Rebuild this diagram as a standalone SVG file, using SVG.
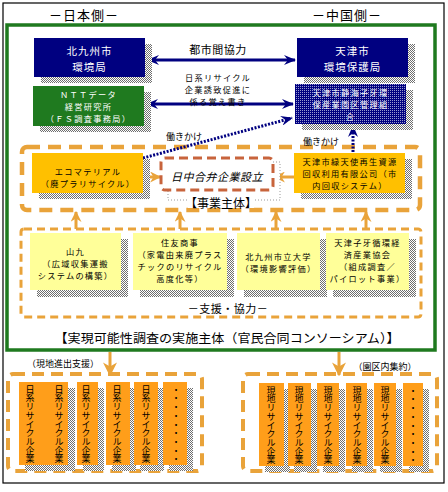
<svg xmlns="http://www.w3.org/2000/svg" width="448" height="492" viewBox="0 0 448 492">
<defs>
<pattern id="hatch" width="2" height="2" patternUnits="userSpaceOnUse"><rect width="2" height="2" fill="#fff"/><rect width="1" height="1" fill="#6e6e6e"/><rect x="1" y="1" width="1" height="1" fill="#6e6e6e"/></pattern>
<pattern id="navydots" width="2" height="2" patternUnits="userSpaceOnUse"><rect width="2" height="2" fill="#000080"/><rect width="1" height="1" fill="#9a9ad0"/></pattern>
<marker id="navyHead" viewBox="0 0 12 10" refX="11" refY="5" markerWidth="12" markerHeight="10" markerUnits="userSpaceOnUse" orient="auto-start-reverse"><path d="M0,0 L12,5 L0,10 L4,5 z" fill="#000080"/></marker>
<marker id="orHead" viewBox="0 0 10 10" refX="9" refY="5" markerWidth="11" markerHeight="11" markerUnits="userSpaceOnUse" orient="auto"><path d="M0,0 L10,5 L0,10 L3,5 z" fill="#E9A33A"/></marker>
<marker id="orHeadBig" viewBox="0 0 10 10" refX="9" refY="5" markerWidth="14" markerHeight="16" markerUnits="userSpaceOnUse" orient="auto"><path d="M0,0 L10,5 L0,10 L3,5 z" fill="#E9A33A"/></marker>
</defs>
<style>
text{font-family:"Noto Sans CJK JP","Noto Sans",sans-serif;dominant-baseline:central;text-anchor:middle;fill:#000}
.w{fill:#fff}
.hd{font-size:13px;letter-spacing:1px}
.t11{font-size:11px;letter-spacing:0.5px}
.tb{font-size:10.5px;letter-spacing:1px}
.t10{font-size:8.2px;letter-spacing:1.3px}
.t9{font-size:9px}
.sh{fill:url(#hatch)}
.navy{fill:#000080}
.green{fill:#1f7a1f}
.gold{fill:#FFC000}
.pale{fill:#FFFF99}
.org{fill:#FF9E1A}
.dash1{fill:none;stroke:#E9A33A;stroke-width:4.5;stroke-dasharray:13 8}
.dash2{fill:none;stroke:#E9A33A;stroke-width:3;stroke-dasharray:8 5}
.dash3{fill:none;stroke:#E9A33A;stroke-width:4;stroke-dasharray:12 7}
.vt{font-size:9px;writing-mode:vertical-rl;text-orientation:upright;letter-spacing:-0.3px}
.nl{stroke:#000080;stroke-width:3;fill:none}
.dl{stroke:#000080;stroke-width:3;fill:none;stroke-dasharray:2 1.5}
.ol{stroke:#E9A33A;stroke-width:3;fill:none}
</style>
<rect x="3" y="3" width="441" height="480" fill="#fff" stroke="#000" stroke-width="1.2"/>
<text class="hd" x="84" y="14">－日本側－</text>
<text class="hd" x="347" y="14">－中国側－</text>
<rect x="7" y="25" width="428" height="325" fill="#fff" stroke="#1f7a1f" stroke-width="3.5"/>

<g id="frame-jigyou">
<rect class="dash1" x="22" y="147" width="398" height="63" rx="5"/>
</g>
<g id="frame-shien">
<rect class="dash2" x="21" y="229" width="400" height="88" rx="3"/>
<text class="t11" x="228" y="308">－支援・協力－</text>
</g>

<g id="connectors">
<line class="nl" x1="148" y1="60" x2="295" y2="60" marker-start="url(#navyHead)" marker-end="url(#navyHead)"/>
<line class="nl" x1="147" y1="104" x2="293" y2="104" marker-start="url(#navyHead)" marker-end="url(#navyHead)"/>
<line class="dl" x1="143" y1="158" x2="292" y2="118" marker-end="url(#navyHead)"/>
<line class="dl" x1="353" y1="152" x2="353" y2="126" marker-end="url(#navyHead)"/>
<line class="ol" x1="143" y1="177" x2="160" y2="177" marker-end="url(#orHead)"/>
<line class="ol" x1="294" y1="177" x2="275" y2="177" marker-end="url(#orHead)"/>
<line class="ol" x1="76" y1="229" x2="76" y2="212" marker-end="url(#orHead)"/>
<line class="ol" x1="180" y1="229" x2="180" y2="212" marker-end="url(#orHead)"/>
<line class="ol" x1="276" y1="229" x2="276" y2="212" marker-end="url(#orHead)"/>
<line class="ol" x1="366" y1="229" x2="366" y2="212" marker-end="url(#orHead)"/>
<line class="ol" x1="110" y1="352" x2="110" y2="375" marker-end="url(#orHeadBig)"/>
<line class="ol" x1="339" y1="352" x2="339" y2="375" marker-end="url(#orHeadBig)"/>
<text class="t11" x="218" y="49">都市間協力</text>
<text class="t10" x="218" y="76.5"><tspan x="218" y="76.5">日系リサイクル</tspan><tspan x="218" y="88.5">企業誘致促進に</tspan><tspan x="218" y="100.5">係る覚え書き</tspan></text>
<text class="t9" x="184" y="136">働きかけ</text>
<text class="t9" x="321" y="141">働きかけ</text>
</g>

<g id="kitakyushu">
<rect class="sh" x="41" y="44" width="111" height="39"/>
<rect class="navy" x="34" y="38" width="111" height="39"/>
<text class="tb w" x="89.5" y="49.5"><tspan x="89.5" y="49.5">北九州市</tspan><tspan x="89.5" y="65.5">環境局</tspan></text>
</g>
<g id="tianjin-env">
<rect class="sh" x="304" y="44" width="111" height="39"/>
<rect class="navy" x="297" y="38" width="111" height="39"/>
<text class="tb w" x="352.5" y="49.5"><tspan x="352.5" y="49.5">天津市</tspan><tspan x="352.5" y="65.5">環境保護局</tspan></text>
</g>
<g id="ntt">
<rect class="sh" x="40" y="92" width="111" height="40"/>
<rect class="green" x="33" y="86" width="111" height="40"/>
<text class="t10 w" x="88.5" y="94"><tspan x="88.5" y="94">ＮＴＴデータ</tspan><tspan x="88.5" y="106">経営研究所</tspan><tspan x="88.5" y="118">（ＦＳ調査事務局）</tspan></text>
</g>
<g id="ziya-admin">
<rect class="sh" x="302" y="90" width="111" height="40"/>
<rect fill="url(#navydots)" x="295" y="84" width="111" height="40"/>
<text class="t10 w" x="350.5" y="92"><tspan x="350.5" y="92">天津市静海子牙環</tspan><tspan x="350.5" y="104">保産業園区管理組</tspan><tspan x="350.5" y="116">合</tspan></text>
</g>
<g id="ecomaterial">
<rect class="sh" x="39" y="159" width="111" height="40"/>
<rect class="gold" x="32" y="153" width="111" height="40"/>
<text class="t10" x="88" y="171"><tspan x="88" y="171">エコマテリアル</tspan><tspan x="88" y="183">（廃プラリサイクル）</tspan></text>
</g>
<g id="joint-venture">
<rect x="168" y="162" width="112" height="38" fill="#fff" stroke="#999" stroke-width="1" stroke-dasharray="1 2"/>
<rect x="161" y="158" width="112" height="32" rx="4" fill="#fff" stroke="#C8643C" stroke-width="3" stroke-dasharray="9 5"/>
<text class="t11" x="217" y="175.5" font-style="italic">日中合弁企業設立</text>
<rect x="188" y="194" width="66" height="14" fill="#fff"/>
<text x="221" y="202" font-size="12px">【事業主体】</text>
</g>
<g id="ryokutenshi">
<rect class="sh" x="301" y="159" width="111" height="40"/>
<rect class="gold" x="294" y="153" width="111" height="40"/>
<text class="t10" x="350" y="161" letter-spacing="1.8"><tspan x="350" y="161">天津市緑天使再生資源</tspan><tspan x="350" y="173">回収利用有限公司（市</tspan><tspan x="350" y="185">内回収システム）</tspan></text>
</g>

<g id="sankyu">
<rect class="sh" x="37" y="239" width="91" height="58"/>
<rect class="pale" x="30" y="233" width="91" height="57"/>
<text class="t10" x="75.5" y="251"><tspan x="75.5" y="251">山九</tspan><tspan x="75.5" y="263">（広域収集運搬</tspan><tspan x="75.5" y="275">システムの構築）</tspan></text>
</g>
<g id="sumitomo">
<rect class="sh" x="140" y="239" width="94" height="58"/>
<rect class="pale" x="133" y="233" width="94" height="57"/>
<text class="t10" x="180" y="242"><tspan x="180" y="242">住友商事</tspan><tspan x="180" y="254">（家電由来廃プラス</tspan><tspan x="180" y="266">チックのリサイクル</tspan><tspan x="180" y="278">高度化等）</tspan></text>
</g>
<g id="kitakyushu-univ">
<rect class="sh" x="244" y="239" width="83" height="58"/>
<rect class="pale" x="237" y="233" width="83" height="57"/>
<text class="t10" x="278.5" y="255.5"><tspan x="278.5" y="255.5">北九州市立大学</tspan><tspan x="278.5" y="267.5">（環境影響評価）</tspan></text>
</g>
<g id="ziya-assoc">
<rect class="sh" x="333" y="239" width="83" height="58"/>
<rect class="pale" x="326" y="233" width="83" height="57"/>
<text class="t10" x="367.5" y="242"><tspan x="367.5" y="242">天津子牙循環経</tspan><tspan x="367.5" y="254">済産業協会</tspan><tspan x="367.5" y="266">（組成調査／</tspan><tspan x="367.5" y="278">パイロット事業）</tspan></text>
</g>
<text x="227" y="337" font-size="12.5px" textLength="345" lengthAdjust="spacingAndGlyphs">【実現可能性調査の実施主体（官民合同コンソーシアム）】</text>

<text class="t9" x="63" y="363">（現地進出支援）</text>
<text class="t9" x="385" y="366">（園区内集約）</text>

<g id="japan-recyclers">
<rect class="dash3" x="8" y="374" width="194" height="97" rx="5"/>
<rect class="sh" x="25" y="388" width="26" height="83"/>
<rect class="org" x="19" y="382" width="26" height="83"/>
<rect class="sh" x="51" y="388" width="24" height="83"/>
<rect class="org" x="44" y="382" width="24" height="83"/>
<rect class="sh" x="83" y="388" width="21" height="83"/>
<rect class="org" x="77" y="382" width="21" height="83"/>
<rect class="sh" x="112" y="388" width="24" height="83"/>
<rect class="org" x="106" y="382" width="24" height="83"/>
<rect class="sh" x="140" y="388" width="24" height="83"/>
<rect class="org" x="134" y="382" width="24" height="83"/>
<rect class="sh" x="169" y="388" width="24" height="83"/>
<rect class="org" x="163" y="382" width="24" height="83"/>
<text class="vt" x="30" y="424">日系リサイクル企業</text>
<text class="vt" x="59" y="424">日系リサイクル企業</text>
<text class="vt" x="86" y="424">日系リサイクル企業</text>
<text class="vt" x="117" y="424">日系リサイクル企業</text>
<text class="vt" x="146" y="424">日系リサイクル企業</text>
<text class="vt" x="176" y="424">・・・・・・・・・</text>
</g>
<g id="local-recyclers">
<rect class="dash3" x="243" y="374" width="194" height="97" rx="5"/>
<rect class="sh" x="265" y="389" width="25" height="83"/>
<rect class="org" x="259" y="383" width="25" height="83"/>
<rect class="sh" x="294" y="389" width="23" height="83"/>
<rect class="org" x="288" y="383" width="23" height="83"/>
<rect class="sh" x="323" y="389" width="22" height="83"/>
<rect class="org" x="317" y="383" width="22" height="83"/>
<rect class="sh" x="352" y="389" width="21" height="83"/>
<rect class="org" x="346" y="383" width="21" height="83"/>
<rect class="sh" x="380" y="389" width="22" height="83"/>
<rect class="org" x="374" y="383" width="22" height="83"/>
<rect class="sh" x="409" y="389" width="20" height="83"/>
<rect class="org" x="403" y="383" width="20" height="83"/>
<text class="vt" x="271" y="425">現地リサイクル企業</text>
<text class="vt" x="299" y="425">現地リサイクル企業</text>
<text class="vt" x="328" y="425">現地リサイクル企業</text>
<text class="vt" x="357" y="425">現地リサイクル企業</text>
<text class="vt" x="385" y="425">現地リサイクル企業</text>
<text class="vt" x="413" y="425">・・・・・・・・・</text>
</g>
</svg>
